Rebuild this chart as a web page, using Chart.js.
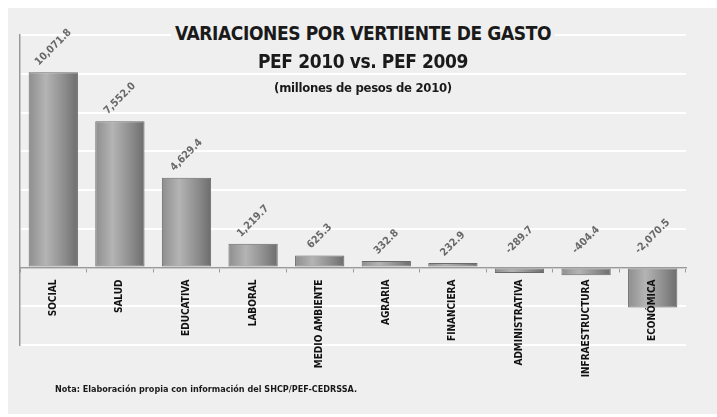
<!DOCTYPE html>
<html>
<head>
<meta charset="utf-8">
<script src="https://cdn.jsdelivr.net/npm/chart.js@4"></script>
<style>
  html, body { margin: 0; padding: 0; background: #fff; }
  #wrap { position: relative; width: 717px; height: 417px; }
  #panel { position: absolute; left: 8px; top: 8px; width: 709px; height: 406px; background: #efefef; }
  canvas { position: absolute; left: 0; top: 0; }
  .t { position: absolute; left: 0; width: 726px; text-align: center; font-family: "Liberation Sans Narrow", "DejaVu Sans Condensed", sans-serif; font-weight: bold; color: #1a1a1a; white-space: nowrap; }
  .t span { background: #efefef; padding: 0 4px; }
  #t1 { top: 22px; font-size: 19px; letter-spacing: -0.4px; }
  #t2 { top: 50px; font-size: 19px; letter-spacing: -0.4px; }
  #t3 { top: 80px; font-size: 13px; letter-spacing: -0.3px; }
  #note { position: absolute; left: 55px; top: 384px; font-family: "Liberation Sans Narrow", "DejaVu Sans Condensed", sans-serif; font-weight: bold; font-size: 9px; color: #1a1a1a; white-space: nowrap; }
</style>
</head>
<body>
<div id="wrap">
  <div id="panel"></div>
  <canvas id="barChart" width="717" height="417"></canvas>
  <div class="t" id="t1"><span>VARIACIONES POR VERTIENTE DE GASTO</span></div>
  <div class="t" id="t2">PEF 2010 vs. PEF 2009</div>
  <div class="t" id="t3">(millones de pesos de 2010)</div>
  <div id="note">Nota: Elaboración propia con información del SHCP/PEF-CEDRSSA.</div>
</div>
<script>
const categories = ['SOCIAL', 'SALUD', 'EDUCATIVA', 'LABORAL', 'MEDIO AMBIENTE', 'AGRARIA',
  'FINANCIERA', 'ADMINISTRATIVA', 'INFRAESTRUCTURA', 'ECONÓMICA'];
const variaciones = [10071.8, 7552.0, 4629.4, 1219.7, 625.3, 332.8, 232.9, -289.7, -404.4, -2070.5];
const yMin = -4000;
const yMax = 12000;
const yStep = 2000;

const NARROW = '"Liberation Sans Narrow", "DejaVu Sans Condensed", sans-serif';
const BAR_PCT = 0.74;

function barGradient(c) {
  const chart = c.chart;
  const xs = chart.scales.x;
  if (!xs || !chart.chartArea) return '#9a9a9a';
  const cx = xs.getPixelForValue(c.dataIndex);
  const w = (xs.width / categories.length) * BAR_PCT;
  const g = chart.ctx.createLinearGradient(cx - w / 2, 0, cx + w / 2, 0);
  g.addColorStop(0, '#8e8e8e');
  g.addColorStop(0.35, '#b4b4b4');
  g.addColorStop(0.75, '#8a8a8a');
  g.addColorStop(1, '#6c6c6c');
  return g;
}

const valueLabels = {
  id: 'valueLabels',
  afterDatasetsDraw(chart) {
    const ctx = chart.ctx;
    const meta = chart.getDatasetMeta(0);
    const zero = chart.scales.y.getPixelForValue(0);
    ctx.save();
    ctx.font = 'bold 10.5px ' + NARROW;
    ctx.fillStyle = '#686868';
    ctx.textAlign = 'center';
    ctx.textBaseline = 'middle';
    meta.data.forEach((el, i) => {
      const v = variaciones[i];
      const txt = v.toLocaleString('en-US', { minimumFractionDigits: 1, maximumFractionDigits: 1 });
      const w = ctx.measureText(txt).width;
      const side = (w + 10) * Math.SQRT1_2;
      const ref = v >= 0 ? el.y : zero;
      const gap = v >= 0 ? 5 : 12;
      ctx.save();
      ctx.translate(el.x, ref - gap - side / 2);
      ctx.rotate(-Math.PI / 4);
      ctx.fillText(txt, 0, 0);
      ctx.restore();
    });
    ctx.restore();
  }
};

new Chart(document.getElementById('barChart'), {
  type: 'bar',
  data: {
    labels: categories,
    datasets: [{
      data: variaciones,
      backgroundColor: barGradient,
      borderColor: '#6a6a6a',
      borderWidth: 1,
      borderSkipped: false,
      categoryPercentage: 1,
      barPercentage: BAR_PCT,
    }],
  },
  options: {
    responsive: false,
    animation: false,
    layout: { padding: { left: 20, right: 31, top: 35, bottom: 72 } },
    plugins: {
      legend: { display: false },
      tooltip: { enabled: false },
    },
    scales: {
      x: {
        position: { y: 0 },
        grid: { drawOnChartArea: false, drawTicks: true, tickLength: 4, color: '#9a9a9a' },
        border: { display: true, color: '#9a9a9a', width: 1.5 },
        ticks: {
          z: 1,
          minRotation: 90,
          maxRotation: 90,
          padding: 8,
          color: '#111',
          font: { family: NARROW, size: 10, weight: 'bold' },
        },
      },
      y: {
        min: yMin,
        max: yMax,
        ticks: { display: false, stepSize: yStep },
        grid: { color: '#ffffff', lineWidth: 2, drawTicks: false },
        border: { display: true, color: '#9a9a9a', width: 1.5 },
      },
    },
  },
  plugins: [valueLabels],
});
</script>
</body>
</html>
